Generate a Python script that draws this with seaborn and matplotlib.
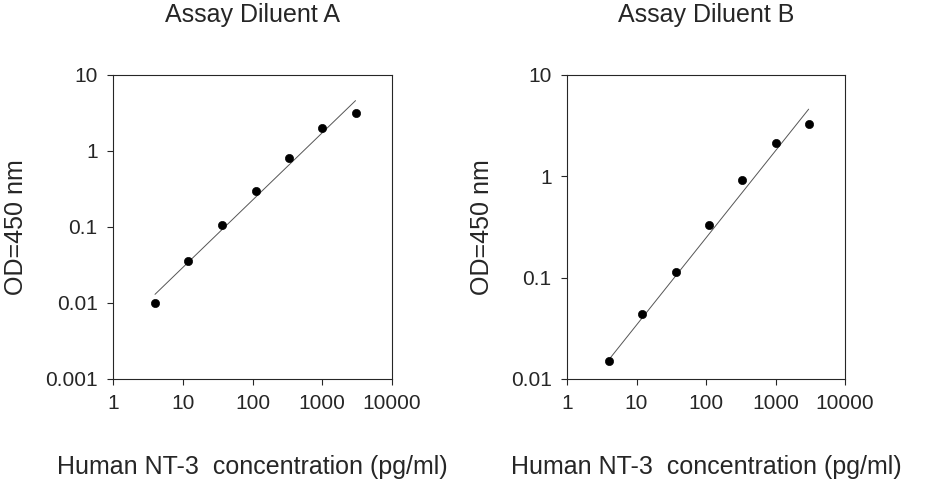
import numpy as np
import pandas as pd
import seaborn as sns
import matplotlib.pyplot as plt
from matplotlib.ticker import FixedLocator, FixedFormatter, NullLocator

# standard curve data (3-fold dilutions)
conc = [4, 12, 37, 111, 333, 1000, 3000]
od_a = [0.010, 0.036, 0.105, 0.30, 0.82, 2.0, 3.2]
od_b = [0.015, 0.044, 0.113, 0.33, 0.92, 2.15, 3.25]

# fitted line end points
fit_x = [4, 3000]
fit_a = [0.013, 4.6]
fit_b = [0.0155, 4.6]

sns.set_style("ticks")
plt.rcParams['font.family'] = ['Liberation Sans', 'DejaVu Sans']

fig = plt.figure(figsize=(9.26, 4.8), dpi=100)
ax1 = fig.add_axes([113/926, 1-379/480, 279/926, 304/480])
ax2 = fig.add_axes([567/926, 1-379/480, 278/926, 304/480])

panels = [
    (ax1, od_a, fit_a, "Assay Diluent A", [0.001, 0.01, 0.1, 1, 10], ["0.001", "0.01", "0.1", "1", "10"]),
    (ax2, od_b, fit_b, "Assay Diluent B", [0.01, 0.1, 1, 10], ["0.01", "0.1", "1", "10"]),
]

xt = [1, 10, 100, 1000, 10000]
for ax, od, fit, title, yt, ylab in panels:
    df = pd.DataFrame({"conc": conc, "od": od})
    sns.lineplot(x=fit_x, y=fit, ax=ax, color="#555555", lw=0.7)
    sns.scatterplot(data=df, x="conc", y="od", ax=ax, color="black", s=35, edgecolor="black", zorder=3)
    ax.set_xscale("log")
    ax.set_yscale("log")
    ax.set_xlim(1, 10000)
    ax.set_ylim(yt[0], yt[-1])
    ax.xaxis.set_major_locator(FixedLocator(xt))
    ax.xaxis.set_major_formatter(FixedFormatter([str(v) for v in xt]))
    ax.yaxis.set_major_locator(FixedLocator(yt))
    ax.yaxis.set_major_formatter(FixedFormatter(ylab))
    ax.xaxis.set_minor_locator(NullLocator())
    ax.yaxis.set_minor_locator(NullLocator())
    ax.tick_params(labelsize=15, length=4, width=0.8, direction="out", pad=7)
    for s in ax.spines.values():
        s.set_visible(True)
        s.set_linewidth(0.8)
    ax.set_xlabel("Human NT-3  concentration (pg/ml)", fontsize=18, labelpad=30)
    ax.set_ylabel("OD=450 nm", fontsize=18, labelpad=12)
    ax.set_title(title, fontsize=18, pad=38)

fig.savefig("out.png", dpi=100)
